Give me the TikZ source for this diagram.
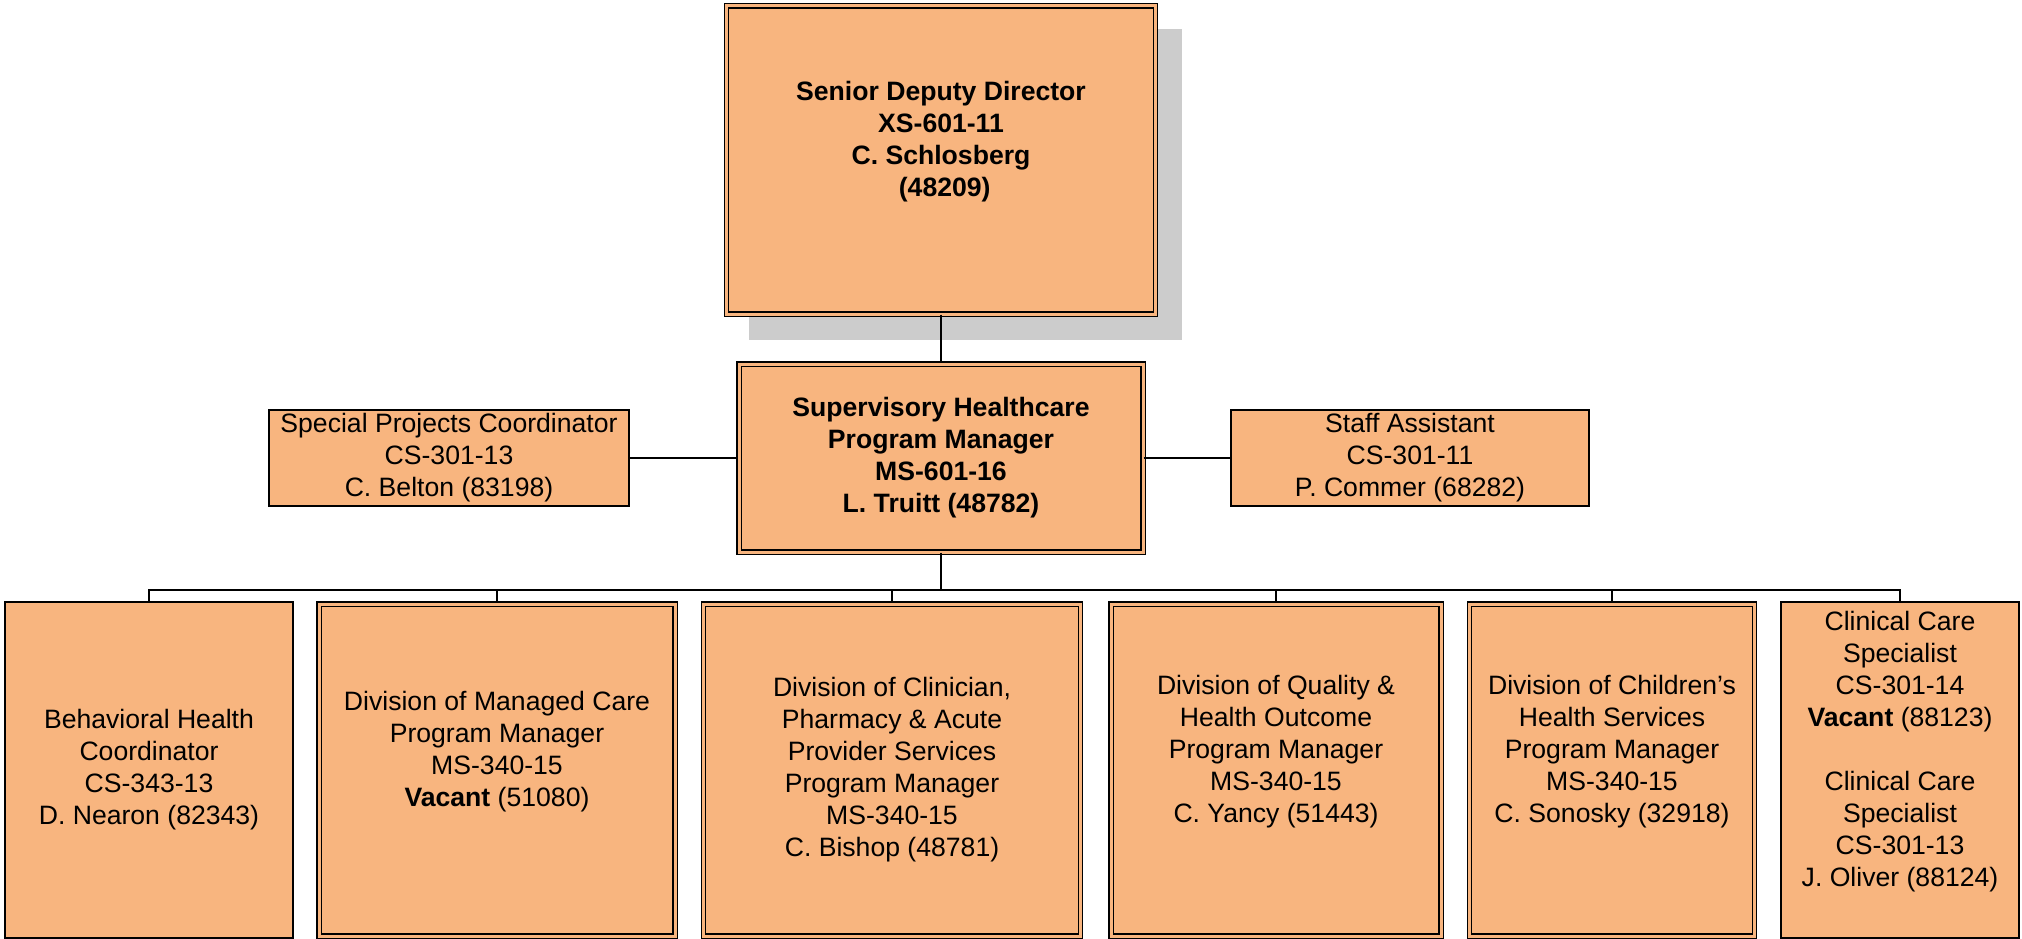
\documentclass[tikz,border=0pt]{standalone}
\usepackage{fontspec}
\setmainfont{Liberation Sans}
\usetikzlibrary{shadows}
\usepackage{xcolor}

\definecolor{posfill}{RGB}{248,181,127}
\definecolor{shadowgrey}{RGB}{204,204,204}

\tikzset{
  post/.style={draw, fill=posfill, line width=1.4pt, align=center, inner sep=0pt,
    font=\fontsize{26.6}{32}\selectfont},
  mainpost/.style={post, double=posfill, double distance=3pt},
  link/.style={line width=1.4pt}
}

\begin{document}
\begin{tikzpicture}[x=1pt, y=-1pt]
      \useasboundingbox (0,0) rectangle (2022,939);

      % director and program manager
      \node[mainpost, minimum width=429pt, minimum height=308pt, font=\fontsize{26.6}{32}\selectfont\bfseries,
        drop shadow={shadow xshift=24pt, shadow yshift=-24pt, shadow scale=1.01, fill=shadowgrey, opacity=1}]
        (sdd) at (941,160) {Senior Deputy Director\\XS-601-11\\C. Schlosberg\\\mbox{ }(48209)\\\strut};
      \node[mainpost, minimum width=404pt, minimum height=188pt, font=\fontsize{26.6}{32}\selectfont\bfseries]
        (shpm) at (941,458) {Supervisory Healthcare\\Program Manager\\MS-601-16\\L. Truitt (48782)};

      % staff
      \node[post, minimum width=360pt, minimum height=96pt] (spc) at (449,458)
        {Special Projects Coordinator\\CS-301-13\\C. Belton (83198)};
      \node[post, minimum width=358pt, minimum height=96pt] (sa) at (1410,458)
        {Staff Assistant\\CS-301-11\\P. Commer (68282)};

      % divisions
      \node[post, minimum width=288pt, minimum height=336pt] (bhc) at (149,770)
        {Behavioral Health\\Coordinator\\CS-343-13\\D. Nearon (82343)};
      \node[mainpost, minimum width=356pt, minimum height=332pt] (dmc) at (497,770)
        {Division of Managed Care\\Program Manager\\MS-340-15\\\textbf{Vacant} (51080)\\\strut};
      \node[mainpost, minimum width=377pt, minimum height=332pt] (dcp) at (892,770)
        {Division of Clinician,\\Pharmacy \& Acute\\Provider Services\\Program Manager\\MS-340-15\\C. Bishop (48781)};
      \node[mainpost, minimum width=330pt, minimum height=332pt] (dqh) at (1276,770)
        {Division of Quality \&\\Health Outcome\\Program Manager\\MS-340-15\\C. Yancy (51443)\\\strut};
      \node[mainpost, minimum width=285pt, minimum height=332pt] (dchs) at (1612,770)
        {Division of Children’s\\Health Services\\Program Manager\\MS-340-15\\C. Sonosky (32918)\\\strut};
      \node[post, minimum width=238pt, minimum height=336pt] (ccs) at (1900,770)
        {Clinical Care\\Specialist\\CS-301-14\\\textbf{Vacant} (88123)\\\strut\\Clinical Care\\Specialist\\CS-301-13\\J. Oliver (88124)\\\strut};

      % lines
      \coordinate (bus) at (941,590);
      \draw[link] (sdd.south) -- (shpm.north);
      \draw[link] (spc) -- (shpm);
      \draw[link] (shpm) -- (sa);
      \draw[link] (shpm.south) -- (bus);
      \foreach \u in {bhc,dmc,dcp,dqh,dchs,ccs}
        \draw[link] (bus) -| (\u.north);
\end{tikzpicture}
\end{document}
